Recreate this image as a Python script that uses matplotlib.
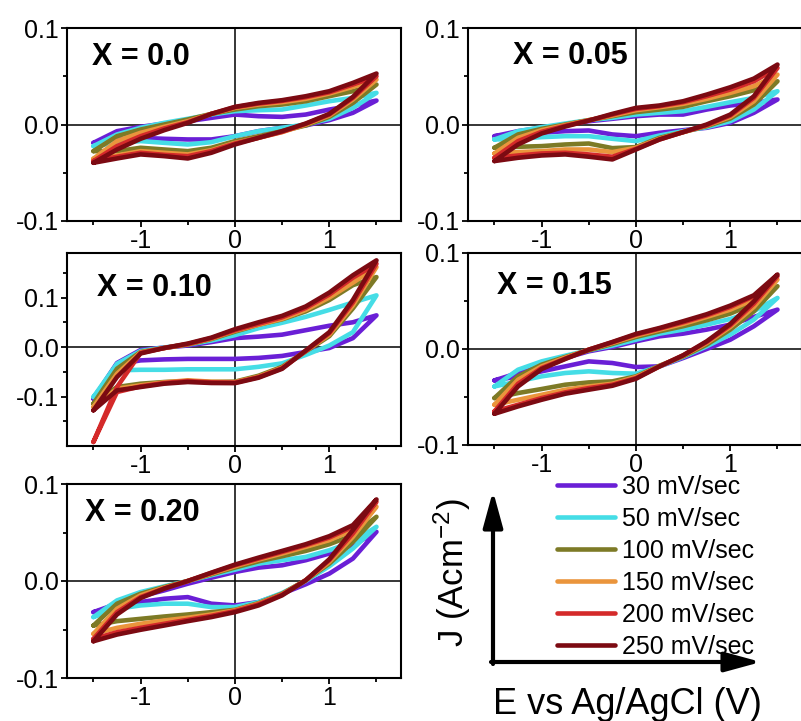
import numpy as np
import matplotlib.pyplot as plt
from matplotlib.patches import FancyArrowPatch, ArrowStyle
from matplotlib.ticker import MultipleLocator, FixedLocator, FormatStrFormatter

plt.rcParams['font.family'] = ['Liberation Sans', 'DejaVu Sans']
plt.rcParams['mathtext.fontset'] = 'custom'
plt.rcParams['mathtext.rm'] = 'Liberation Sans'
plt.rcParams['mathtext.default'] = 'regular'
plt.rcParams['axes.unicode_minus'] = False

# potential grid (V vs Ag/AgCl)
E = np.array([-1.5, -1.25, -1.0, -0.75, -0.5, -0.25, 0.0,
              0.25, 0.5, 0.75, 1.0, 1.25, 1.5])

RATES = ['30 mV/sec', '50 mV/sec', '100 mV/sec',
         '150 mV/sec', '200 mV/sec', '250 mV/sec']
COLORS = ['#6a1fd6', '#45dde6', '#7d7a26', '#ea953c', '#d42a2a', '#7c0a12']

# current density in mA cm^-2; UP = forward sweep, DN = reverse sweep
# one row per scan rate, values on the E grid
X000_UP = [
    [-19.0, -6.9, -2.4, 1.0, 3.4, 6.9, 10.3, 8.6, 7.9, 10.3, 15.5, 19.7, 24.8],
    [-22.4, -10.3, -3.4, 1.7, 5.9, 10.3, 13.8, 14.8, 15.5, 19.7, 24.1, 27.6, 32.8],
    [-27.6, -12.1, -5.2, 0.0, 5.2, 11.0, 15.5, 19.0, 20.7, 24.1, 29.3, 34.5, 41.4],
    [-35.5, -17.2, -8.6, -2.4, 3.4, 11.0, 17.2, 20.7, 23.1, 26.6, 32.1, 39.0, 46.6],
    [-37.9, -22.4, -12.1, -4.1, 2.4, 11.0, 17.9, 21.7, 24.5, 28.3, 33.4, 41.4, 50.0],
    [-39.7, -25.9, -14.8, -5.9, 1.7, 11.0, 18.3, 22.4, 25.2, 29.3, 34.5, 43.1, 52.8],
]
X000_DN = [
    [-19.0, -15.5, -13.8, -14.8, -15.5, -15.5, -12.1, -6.9, -3.4, -1.0, 4.5, 12.1, 24.8],
    [-22.4, -19.0, -17.2, -19.0, -20.7, -18.3, -12.1, -6.9, -3.4, 0.0, 5.9, 17.2, 32.8],
    [-27.6, -27.6, -24.1, -25.9, -27.6, -24.1, -17.2, -12.1, -6.9, -1.0, 7.9, 22.4, 41.4],
    [-35.5, -32.1, -27.6, -29.3, -31.0, -26.6, -19.0, -13.8, -7.9, 0.0, 9.3, 25.9, 46.6],
    [-37.9, -33.4, -29.3, -31.4, -32.8, -27.6, -19.7, -13.8, -7.6, 0.7, 10.3, 27.6, 50.0],
    [-39.7, -35.2, -31.0, -32.8, -35.2, -29.3, -20.7, -13.8, -6.9, 1.0, 11.0, 28.6, 52.8],
]

X005_UP = [
    [-12.1, -6.9, -3.4, 0.0, 3.4, 5.9, 8.6, 10.3, 10.3, 15.5, 19.7, 22.4, 25.9],
    [-15.5, -6.9, -2.8, 1.0, 4.5, 6.9, 10.3, 12.1, 13.8, 18.3, 23.1, 27.6, 34.5],
    [-24.1, -10.3, -4.5, 0.0, 4.5, 8.6, 12.8, 15.5, 18.3, 24.1, 29.3, 35.5, 44.8],
    [-30.0, -13.8, -5.9, -0.7, 4.5, 9.3, 14.8, 17.9, 21.4, 26.6, 32.8, 39.7, 51.7],
    [-34.5, -17.2, -7.6, -1.4, 4.1, 10.3, 16.2, 19.0, 23.1, 29.3, 36.2, 44.8, 58.6],
    [-37.9, -20.7, -9.3, -2.1, 4.1, 11.0, 17.2, 19.7, 24.1, 31.0, 38.6, 47.6, 62.1],
]
X005_DN = [
    [-12.1, -10.3, -8.6, -6.9, -6.2, -10.3, -12.1, -8.6, -5.9, -3.4, 1.7, 12.1, 25.9],
    [-15.5, -14.8, -13.1, -12.1, -12.1, -14.8, -17.2, -11.4, -6.9, -2.8, 3.4, 15.5, 34.5],
    [-24.1, -23.1, -22.4, -20.7, -19.7, -24.5, -23.4, -13.8, -7.9, -1.7, 6.2, 20.7, 44.8],
    [-30.0, -28.6, -27.6, -25.9, -25.9, -28.6, -24.1, -14.8, -7.9, -1.0, 7.9, 24.1, 51.7],
    [-34.5, -32.1, -30.0, -29.3, -31.0, -33.4, -25.2, -15.5, -7.9, -0.7, 9.3, 27.6, 58.6],
    [-37.9, -34.5, -32.1, -31.0, -33.4, -36.2, -25.9, -15.5, -7.9, 0.0, 10.3, 29.3, 62.1],
]

X010_UP = [
    [-104.4, -32.3, -6.0, -1.0, 3.0, 10.0, 18.0, 21.0, 25.0, 34.0, 43.0, 50.0, 64.0],
    [-101.0, -33.7, -8.0, -1.0, 5.0, 13.0, 24.0, 38.0, 49.0, 61.0, 75.0, 90.0, 104.4],
    [-114.5, -43.8, -10.0, -2.0, 5.0, 16.0, 31.0, 45.0, 56.0, 72.0, 95.0, 125.0, 141.4],
    [-121.2, -53.9, -11.0, -2.0, 6.0, 17.0, 33.0, 45.0, 57.0, 75.0, 100.0, 130.0, 161.6],
    [-191.9, -80.8, -12.0, -2.0, 6.0, 18.0, 34.0, 47.0, 60.0, 79.0, 106.0, 140.0, 168.4],
    [-127.9, -60.6, -13.0, -2.0, 7.0, 19.0, 36.0, 50.0, 63.0, 82.0, 110.0, 145.0, 175.1],
]
X010_DN = [
    [-104.4, -35.0, -27.0, -25.0, -24.0, -24.0, -24.0, -22.0, -18.0, -10.0, -2.0, 18.0, 64.0],
    [-101.0, -47.0, -46.0, -46.0, -45.0, -45.0, -45.0, -40.0, -33.0, -16.0, 3.0, 30.0, 104.4],
    [-114.5, -80.8, -74.1, -70.7, -68.7, -70.7, -70.0, -58.0, -40.0, -9.0, 22.0, 78.0, 141.4],
    [-121.2, -84.2, -77.4, -71.4, -67.3, -70.0, -71.0, -60.0, -42.0, -8.0, 25.0, 84.0, 161.6],
    [-191.9, -90.9, -79.5, -72.7, -68.7, -71.4, -72.0, -61.0, -43.0, -8.0, 28.0, 90.0, 168.4],
    [-127.9, -87.5, -80.8, -74.1, -70.7, -72.7, -73.0, -62.0, -44.0, -7.0, 30.0, 95.0, 175.1],
]

X015_UP = [
    [-32.7, -25.0, -16.3, -9.4, -2.4, 2.1, 8.0, 13.2, 16.0, 20.2, 25.4, 33.4, 41.0],
    [-39.0, -21.6, -12.9, -7.0, -1.4, 3.5, 9.7, 16.0, 20.2, 25.4, 31.3, 39.3, 53.2],
    [-51.1, -28.5, -16.3, -8.3, -1.4, 5.2, 12.5, 18.4, 23.7, 29.9, 36.9, 47.3, 65.4],
    [-58.1, -32.0, -18.1, -9.0, -0.7, 6.3, 13.9, 20.2, 26.1, 33.4, 41.0, 51.5, 72.3],
    [-65.0, -36.2, -19.8, -10.1, -0.7, 7.0, 15.0, 21.2, 27.8, 35.1, 43.8, 55.0, 75.8],
    [-67.5, -39.0, -20.9, -10.4, -0.7, 7.3, 15.7, 21.9, 28.9, 36.2, 45.2, 56.0, 77.6],
]
X015_DN = [
    [-32.7, -28.5, -23.3, -18.1, -12.9, -14.6, -18.8, -18.1, -9.4, 0.0, 9.7, 23.7, 41.0],
    [-39.0, -33.7, -28.5, -25.0, -23.3, -25.0, -25.7, -18.1, -8.3, 2.8, 15.0, 30.6, 53.2],
    [-51.1, -45.9, -41.7, -37.2, -34.8, -33.7, -28.5, -17.4, -7.7, 4.5, 20.2, 39.3, 65.4],
    [-58.1, -52.9, -47.7, -42.4, -39.0, -36.2, -29.2, -18.1, -7.0, 6.3, 23.0, 43.8, 72.3],
    [-65.0, -58.1, -51.1, -45.2, -40.7, -37.2, -30.3, -18.1, -6.6, 7.3, 24.7, 47.3, 75.8],
    [-67.5, -59.8, -52.9, -46.6, -42.4, -38.3, -31.0, -18.1, -6.6, 8.0, 26.1, 49.7, 77.6],
]

X020_UP = [
    [-32.1, -23.4, -15.9, -9.7, -2.8, 3.4, 9.3, 13.8, 16.2, 21.4, 28.3, 36.9, 50.7],
    [-37.2, -20.0, -11.4, -5.5, 0.0, 5.9, 11.7, 17.9, 21.4, 24.8, 31.7, 40.3, 55.9],
    [-45.9, -23.4, -13.1, -6.2, 0.0, 6.9, 13.8, 20.3, 25.5, 31.0, 37.9, 47.2, 66.2],
    [-54.5, -28.6, -14.8, -6.9, 0.0, 7.6, 15.2, 22.1, 28.3, 35.2, 42.1, 52.4, 76.6],
    [-59.7, -32.1, -16.6, -7.6, 0.0, 8.3, 16.2, 23.1, 30.0, 36.9, 44.8, 55.9, 81.7],
    [-62.1, -34.5, -17.6, -7.9, 0.0, 8.6, 16.9, 24.1, 31.0, 37.9, 46.2, 57.6, 84.1],
]
X020_DN = [
    [-32.1, -26.9, -21.7, -18.3, -16.6, -23.4, -25.2, -21.7, -13.1, -3.4, 7.6, 23.1, 50.7],
    [-37.2, -28.6, -25.2, -23.4, -23.4, -26.9, -26.9, -21.7, -12.4, 0.0, 15.2, 33.4, 55.9],
    [-45.9, -41.4, -39.0, -36.6, -34.5, -32.1, -29.7, -22.8, -13.1, 0.7, 17.9, 40.3, 66.2],
    [-54.5, -48.3, -44.1, -40.7, -37.9, -34.5, -30.3, -23.4, -13.8, 0.7, 19.7, 45.5, 76.6],
    [-59.7, -52.8, -48.3, -44.1, -40.0, -35.9, -31.0, -24.1, -14.1, 0.7, 21.4, 49.0, 81.7],
    [-62.1, -55.2, -50.3, -45.9, -41.4, -37.2, -32.1, -25.2, -14.8, 0.7, 22.4, 52.4, 84.1],
]

W, H = 801, 721


def px_rect(left, top, right, bottom):
    return [left / W, 1 - bottom / H, (right - left) / W, (bottom - top) / H]


panels = [
    ('X = 0.0',  X000_UP, X000_DN, (-0.1, 0.1),   px_rect(67, 28, 401, 221),   (0.075, 0.85)),
    ('X = 0.05', X005_UP, X005_DN, (-0.1, 0.1),   px_rect(468, 28, 802, 221),  (0.135, 0.855)),
    ('X = 0.10', X010_UP, X010_DN, (-0.2, 0.19),  px_rect(67, 253, 401, 446),  (0.09, 0.82)),
    ('X = 0.15', X015_UP, X015_DN, (-0.1, 0.1),   px_rect(468, 253, 802, 445), (0.087, 0.83)),
    ('X = 0.20', X020_UP, X020_DN, (-0.1, 0.1),   px_rect(67, 484, 401, 678),  (0.054, 0.85)),
]

fig = plt.figure(figsize=(W / 100, H / 100), dpi=100)

handles = []
for label, up, dn, ylim, rect, tpos in panels:
    ax = fig.add_axes(rect)
    ax.axhline(0, color='black', lw=1.1, zorder=1)
    ax.axvline(0, color='black', lw=1.1, zorder=1)
    lines = []
    for j_up, j_dn, col, rate in zip(up, dn, COLORS, RATES):
        loop_e = np.concatenate([E, E[::-1]])
        loop_j = np.concatenate([j_up, j_dn[::-1]]) / 1000.0
        ln, = ax.plot(loop_e, loop_j, color=col, lw=3.3, label=rate,
                      solid_joinstyle='round', solid_capstyle='round', zorder=2)
        lines.append(ln)
    handles = lines
    ax.set_xlim(-1.78, 1.76)
    ax.set_ylim(*ylim)
    ax.xaxis.set_major_locator(MultipleLocator(1))
    ax.xaxis.set_minor_locator(MultipleLocator(0.5))
    ax.yaxis.set_major_locator(FixedLocator([-0.1, 0.0, 0.1]))
    ax.yaxis.set_minor_locator(FixedLocator([-0.15, -0.05, 0.05, 0.15]))
    ax.xaxis.set_major_formatter(FormatStrFormatter('%d'))
    ax.yaxis.set_major_formatter(FormatStrFormatter('%.1f'))
    ax.tick_params(which='major', direction='out', length=4, width=1.3,
                   labelsize=18, pad=2)
    ax.tick_params(which='minor', direction='out', length=3, width=1.3)
    for sp in ax.spines.values():
        sp.set_linewidth(1.5)
    ax.text(tpos[0], tpos[1], label, transform=ax.transAxes, fontsize=22,
            fontweight='bold', ha='left', va='center')

fig.legend(handles, RATES, loc='upper left',
           bbox_to_anchor=(557 / W, 1 - 475 / H), frameon=False, fontsize=18,
           handlelength=2.3, handletextpad=0.3, labelspacing=0.32,
           borderpad=0, borderaxespad=0)

# axis-direction arrows
style = ArrowStyle('-|>', head_length=2.2, head_width=0.6)
fig.add_artist(FancyArrowPatch((493 / W, 1 - 664 / H), (493 / W, 1 - 491 / H),
                               transform=fig.transFigure, arrowstyle=style,
                               mutation_scale=10, lw=3, color='black',
                               shrinkA=0, shrinkB=0))
fig.add_artist(FancyArrowPatch((491 / W, 1 - 662 / H), (761 / W, 1 - 662 / H),
                               transform=fig.transFigure, arrowstyle=style,
                               mutation_scale=10, lw=3, color='black',
                               shrinkA=0, shrinkB=0))

fig.text(452 / W, 1 - 573 / H, r'J (Acm$^{-2}$)', rotation=90, fontsize=25,
         ha='center', va='center')
fig.text(627 / W, 1 - 714 / H, 'E vs Ag/AgCl (V)', fontsize=26,
         ha='center', va='baseline')

fig.savefig('out.png', dpi=100)
